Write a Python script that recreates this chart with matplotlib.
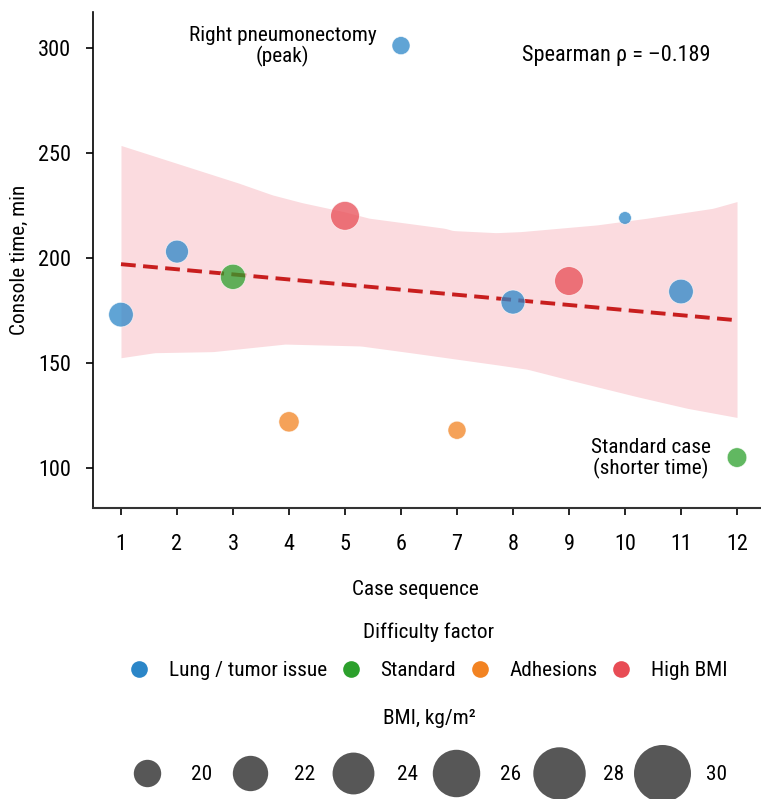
import numpy as np
import matplotlib
matplotlib.use("Agg")
import matplotlib.pyplot as plt
from matplotlib.lines import Line2D
from matplotlib import font_manager

# pick a condensed face if one is installed
have = set(f.name for f in font_manager.fontManager.ttflist)
family = "DejaVu Sans"
for cand in ["Roboto Condensed", "Liberation Sans Narrow", "Archivo Narrow",
             "PT Sans Narrow", "Open Sans Condensed", "Barlow Condensed"]:
    if cand in have:
        family = cand
        break
plt.rcParams['font.family'] = [family, 'DejaVu Sans']
FS = 16
LFS = 15.3

# data
case = [1, 2, 3, 4, 5, 6, 7, 8, 9, 10, 11, 12]
console_min = [173, 203, 191, 122, 220, 301, 118, 179, 189, 219, 184, 105]
bmi = [26, 24.5, 26.5, 22.5, 30, 21, 21, 25.5, 30, 18, 26, 22]
factor = ["Lung / tumor issue", "Lung / tumor issue", "Standard", "Adhesions", "High BMI",
          "Lung / tumor issue", "Adhesions", "Lung / tumor issue", "High BMI",
          "Lung / tumor issue", "Lung / tumor issue", "Standard"]

factor_names = ["Lung / tumor issue", "Standard", "Adhesions", "High BMI"]
factor_colors = ["#2b86c8", "#2ca02c", "#f28322", "#e84c55"]

# confidence band edges
ci_x_hi = [1, 3.1, 3.7, 4.23, 4.98, 5.43, 5.88, 6.78, 6.93, 7.7, 8.14, 9.5, 10.4, 11.57, 12]
ci_hi = [253.5, 235.6, 230, 226.3, 222, 218.9, 217.3, 214.1, 213, 212, 212.5, 215.7, 218.9, 223.6, 226.8]
ci_x_lo = [1, 1.6, 2.64, 3.93, 5.28, 6.25, 7.75, 8.26, 9.01, 10.21, 11.12, 12]
ci_lo = [152.5, 154.9, 155.4, 159, 158.1, 154.6, 149, 147, 141.9, 134, 128.4, 124.1]

bmi_legend = [20, 22, 24, 26, 28, 30]

fig = plt.figure(figsize=(7.61, 7.99), dpi=100)
ax = fig.add_axes([93/761, 1 - 508/799, 672/761, 496/799])

# band on a common grid
gx = np.linspace(1, 12, 200)
ax.fill_between(gx, np.interp(gx, ci_x_lo, ci_lo), np.interp(gx, ci_x_hi, ci_hi),
                color="#fbdbdf", lw=0, zorder=1)

# OLS trend
k, b = np.polyfit(case, console_min, 1)
xl = np.array([1, 12])
ax.plot(xl, k * xl + b, color="#c81e1e", lw=2.8, ls=(0, (3.8, 1.9)), zorder=2)

# point sizes (px diameter -> pt^2)
d_px = np.sqrt(161 + 55.25 * (np.array(bmi) - 18))
sizes = (d_px * 0.72) ** 2
cols = [factor_colors[factor_names.index(f)] for f in factor]
ax.scatter(case, console_min, s=sizes, c=cols, alpha=0.75, edgecolors="white",
           linewidths=0.5, zorder=3)

ax.text(3.89, 300.5, "Right pneumonectomy\n(peak)", ha="center", va="center",
        fontsize=LFS, linespacing=1.05)
ax.text(11.52, 296.5, "Spearman ρ = –0.189", ha="right", va="center", fontsize=FS)
ax.text(10.46, 104.5, "Standard case\n(shorter time)", ha="center", va="center",
        fontsize=LFS, linespacing=1.05)

ax.set_xlim(0.5, 12.5)
ax.set_ylim(81, 317)
ax.set_xticks(case)
ax.set_yticks([100, 150, 200, 250, 300])
ax.tick_params(labelsize=FS, length=5, width=1.2)
ax.tick_params(axis="x", pad=14)
ax.tick_params(axis="y", pad=10.5)
for s in ["top", "right"]:
    ax.spines[s].set_visible(False)
ax.spines["left"].set_linewidth(1.2)
ax.spines["bottom"].set_linewidth(1.5)
ax.spines["bottom"].set_color("#333333")

ax.set_xlabel("Case sequence", fontsize=LFS)
ax.xaxis.set_label_coords((415 - 93) / 672, -(580 - 508) / 496)
ax.set_ylabel("Console time, min", fontsize=LFS)
ax.yaxis.set_label_coords(-(93 - 29) / 672, 0.5)

cx = 429 / 761

# legend: difficulty factor
fig.text(cx, 1 - 632 / 799, "Difficulty factor", ha="center", va="center", fontsize=LFS)
h1 = [Line2D([], [], ls="", marker="o", markersize=12, markerfacecolor=c,
             markeredgecolor="none") for c in factor_colors]
leg1 = fig.legend(h1, factor_names, loc="center", bbox_to_anchor=(cx, 1 - 671 / 799),
                  ncol=4, frameon=False, fontsize=LFS, handlelength=0.8,
                  handletextpad=1.0, columnspacing=0.72)

# legend: BMI sizes
fig.text(cx, 1 - 718 / 799, "BMI, kg/m²", ha="center", va="center", fontsize=LFS)
h2 = []
for v in bmi_legend:
    d = np.sqrt(751 + 250 * (v - 20)) * 0.72
    h2.append(Line2D([], [], ls="", marker="o", markersize=d, markerfacecolor="#575757",
                     markeredgecolor="none"))
leg2 = fig.legend(h2, [str(v) for v in bmi_legend], loc="center",
                  bbox_to_anchor=(cx, 1 - 775 / 799), ncol=6, frameon=False, fontsize=LFS,
                  handlelength=1.5, handletextpad=1.3, columnspacing=1.05)

fig.savefig("out.png", dpi=100)
